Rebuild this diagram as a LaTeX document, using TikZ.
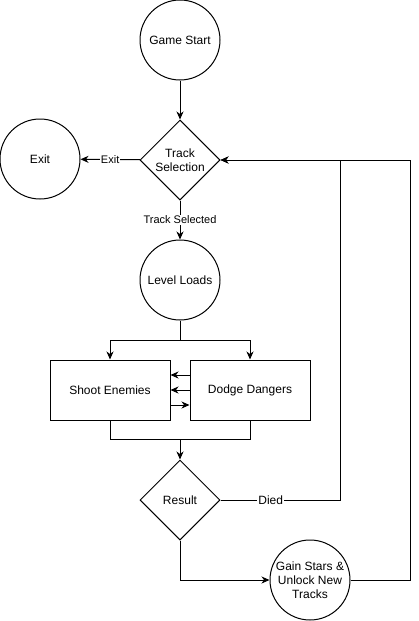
\documentclass[tikz,border=0pt]{standalone}
\usepackage{fontspec}
\setmainfont{Liberation Sans}
\usetikzlibrary{arrows.meta,shapes.geometric}
\begin{document}
\begin{tikzpicture}[x=1pt,y=-1pt,
  every node/.style={font=\fontsize{12}{14}\selectfont, inner sep=0pt, align=center},
  circ/.style={draw, circle, minimum size=80pt, line width=1pt},
  dia/.style={draw, diamond, minimum width=80pt, minimum height=80pt, aspect=1, line width=1pt},
  boxn/.style={draw, rectangle, minimum width=120pt, minimum height=60pt, line width=1pt},
  conn/.style={line width=1pt, -{Stealth[length=8pt,width=7pt,inset=2.5pt]}},
  line/.style={line width=1pt},
  elab/.style={fill=white, font=\fontsize{11}{13}\selectfont, inner sep=1pt}]
\useasboundingbox (0,0) rectangle (419,621);
\node[circ] (start) at (180,40) {Game Start};
\node[dia] (track) at (180,160) {Track\\Selection};
\node[circ] (exit) at (40,159) {Exit};
\node[circ] (level) at (180,280) {Level Loads};
\node[boxn] (shoot) at (110,390) {Shoot Enemies};
\node[boxn] (dodge) at (250,390) {Dodge Dangers};
\node[dia] (result) at (180,500) {Result};
\node[circ] (gain) at (310,580) {Gain Stars \&\\Unlock New\\Tracks};
\coordinate (split) at (180,340);
\coordinate (merge) at (180,439);
\coordinate (diedc) at (340,160);
\coordinate (gainc) at (410,160);

\draw[conn] (start) -- (track);
\draw[conn] (track) -- node[elab]{Exit} (exit);
\draw[conn] (track) -- node[elab, pos=0.5]{Track Selected} (level);
\draw[line] (level) -- (split);
\draw[conn] (split) -| (shoot.north);
\draw[conn] (split) -| (dodge.north);
\draw[conn] (dodge.west |- 0,375) -- (shoot.east |- 0,375);
\draw[conn] (dodge.west |- 0,390) -- (shoot.east |- 0,390);
\draw[conn] (shoot.east |- 0,405) -- (dodge.west |- 0,405);
\draw[line] (shoot.south) |- (merge);
\draw[line] (dodge.south) |- (merge);
\draw[conn] (merge) -- (result);
\draw[conn] (result.east) -- node[elab, pos=0.42, font=\fontsize{12}{14}\selectfont]{Died} (result.east -| diedc) -- (diedc) -- (track.east);
\draw[conn] (result.south) |- (gain.west);
\draw[conn] (gain.east) -| (gainc) -- (track.east);
\end{tikzpicture}
\end{document}
